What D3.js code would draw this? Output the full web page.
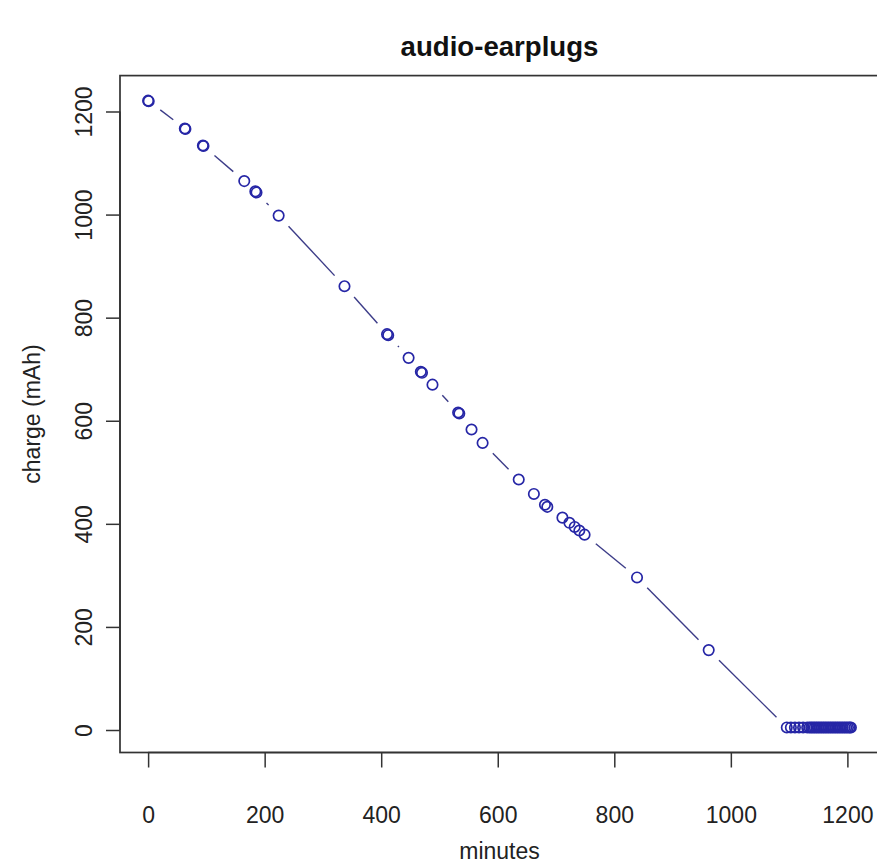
<!DOCTYPE html>
<html>
<head>
<meta charset="utf-8">
<script src="https://cdn.jsdelivr.net/npm/d3@7"></script>
<style>
  html, body { margin: 0; padding: 0; background: #fff; }
  svg { display: block; font-family: "Liberation Sans", Arial, sans-serif; }
</style>
</head>
<body>
<svg id="chart" width="877" height="865"></svg>
<script>
// Discharge log of the audio earplugs: elapsed minutes vs remaining charge (mAh)
const minutes = [
  0, 1, 63, 64, 94, 95, 165, 184, 186, 224, 337, 410, 412, 447, 468, 470,
  488, 532, 534, 555, 574, 636, 662, 681, 685, 711, 723, 732, 740, 749,
  839, 962,
  1096, 1103, 1110, 1117, 1124, 1131, 1135, 1138, 1141, 1144, 1147, 1150,
  1153, 1156, 1159, 1162, 1165, 1168, 1171, 1174, 1177, 1180, 1183, 1186,
  1189, 1192, 1195, 1198, 1201, 1204, 1206
];
const charge = [
  1221, 1220, 1167, 1166, 1134, 1133, 1065, 1045, 1043, 998, 861, 768, 766, 722, 695, 693,
  670, 616, 614, 583, 557, 486, 458, 437, 433, 412, 402, 394, 387, 379,
  296, 155,
  5, 5, 5, 5, 5, 5, 5, 5, 5, 5, 5, 5,
  5, 5, 5, 5, 5, 5, 5, 5, 5, 5, 5, 5,
  5, 5, 5, 5, 5, 5, 5
];
const xTicks = [0, 200, 400, 600, 800, 1000, 1200];
const yTicks = [0, 200, 400, 600, 800, 1000, 1200];
const titleText = "audio-earplugs";
const xLabel = "minutes";
const yLabel = "charge (mAh)";

const svg = d3.select("#chart");
const plot = { left: 120, right: 879, top: 75.6, bottom: 752.5 };
const fontSize = 23;
const axisColor = "#333";
const markColor = "#2626a6";
const lineColor = "#3c3c88";
const fmt = d3.format("d");

// pad the data range by 4% on each side
function padded(values) {
  const [lo, hi] = d3.extent(values);
  const p = (hi - lo) * 0.04;
  return [lo - p, hi + p];
}
const x = d3.scaleLinear().domain(padded(minutes)).range([plot.left, plot.right]);
const y = d3.scaleLinear().domain(padded(charge)).range([plot.bottom, plot.top]);

const pts = minutes.map((m, i) => ({ x: x(m), y: y(charge[i]) }));

// connecting segments, trimmed back from each point so the circles stay open
const gap = 14.5;
const segs = [];
for (let i = 0; i < pts.length - 1; i++) {
  const a = pts[i], b = pts[i + 1];
  const dx = b.x - a.x, dy = b.y - a.y;
  const d = Math.hypot(dx, dy);
  if (d > 2 * gap) {
    const ux = dx / d, uy = dy / d;
    segs.push({ x1: a.x + ux * gap, y1: a.y + uy * gap, x2: b.x - ux * gap, y2: b.y - uy * gap });
  }
}
svg.append("g").selectAll("line").data(segs).join("line")
  .attr("x1", d => d.x1).attr("y1", d => d.y1)
  .attr("x2", d => d.x2).attr("y2", d => d.y2)
  .attr("stroke", lineColor).attr("stroke-width", 1.4);

svg.append("g").selectAll("circle").data(pts).join("circle")
  .attr("cx", d => d.x).attr("cy", d => d.y).attr("r", 5.2)
  .attr("fill", "none").attr("stroke", markColor).attr("stroke-width", 1.7);

// frame around the plotting region
svg.append("rect")
  .attr("x", plot.left).attr("y", plot.top)
  .attr("width", plot.right - plot.left).attr("height", plot.bottom - plot.top)
  .attr("fill", "none").attr("stroke", axisColor).attr("stroke-width", 1.7);

// x axis
const xAxis = d3.axisBottom(x).tickValues(xTicks).tickFormat(fmt)
  .tickSize(15).tickSizeOuter(0).tickPadding(0);
const gx = svg.append("g").attr("transform", `translate(0,${plot.bottom})`).call(xAxis);
gx.select(".domain").attr("stroke", axisColor).attr("stroke-width", 1.7)
  .attr("d", `M${x(xTicks[0])},0H${x(xTicks[xTicks.length - 1])}`);
gx.selectAll(".tick line").attr("stroke", axisColor).attr("stroke-width", 1.5);
gx.selectAll(".tick text")
  .attr("y", 823 - plot.bottom).attr("dy", null)
  .attr("font-size", fontSize).attr("font-family", "Liberation Sans, Arial, sans-serif")
  .attr("fill", "#222");

// y axis, labels turned to read upward
const yAxis = d3.axisLeft(y).tickValues(yTicks).tickFormat(fmt)
  .tickSize(14).tickSizeOuter(0).tickPadding(0);
const gy = svg.append("g").attr("transform", `translate(${plot.left},0)`).call(yAxis);
gy.select(".domain").attr("stroke", axisColor).attr("stroke-width", 1.7)
  .attr("d", `M0,${y(yTicks[0])}V${y(yTicks[yTicks.length - 1])}`);
gy.selectAll(".tick line").attr("stroke", axisColor).attr("stroke-width", 1.5);
gy.selectAll(".tick text")
  .attr("x", null).attr("dy", null)
  .attr("transform", `translate(${92 - plot.left},0) rotate(-90)`)
  .attr("text-anchor", "middle")
  .attr("font-size", fontSize).attr("font-family", "Liberation Sans, Arial, sans-serif")
  .attr("fill", "#222");

const cx = (plot.left + plot.right) / 2;
const cy = (plot.top + plot.bottom) / 2;

svg.append("text")
  .attr("x", cx).attr("y", 56)
  .attr("text-anchor", "middle").attr("font-weight", "bold")
  .attr("font-size", fontSize * 1.2).attr("fill", "#111")
  .text(titleText);

svg.append("text")
  .attr("x", cx).attr("y", 859)
  .attr("text-anchor", "middle")
  .attr("font-size", fontSize).attr("fill", "#222")
  .text(xLabel);

svg.append("text")
  .attr("transform", `translate(40,${cy}) rotate(-90)`)
  .attr("text-anchor", "middle")
  .attr("font-size", fontSize).attr("fill", "#222")
  .text(yLabel);
</script>
</body>
</html>
